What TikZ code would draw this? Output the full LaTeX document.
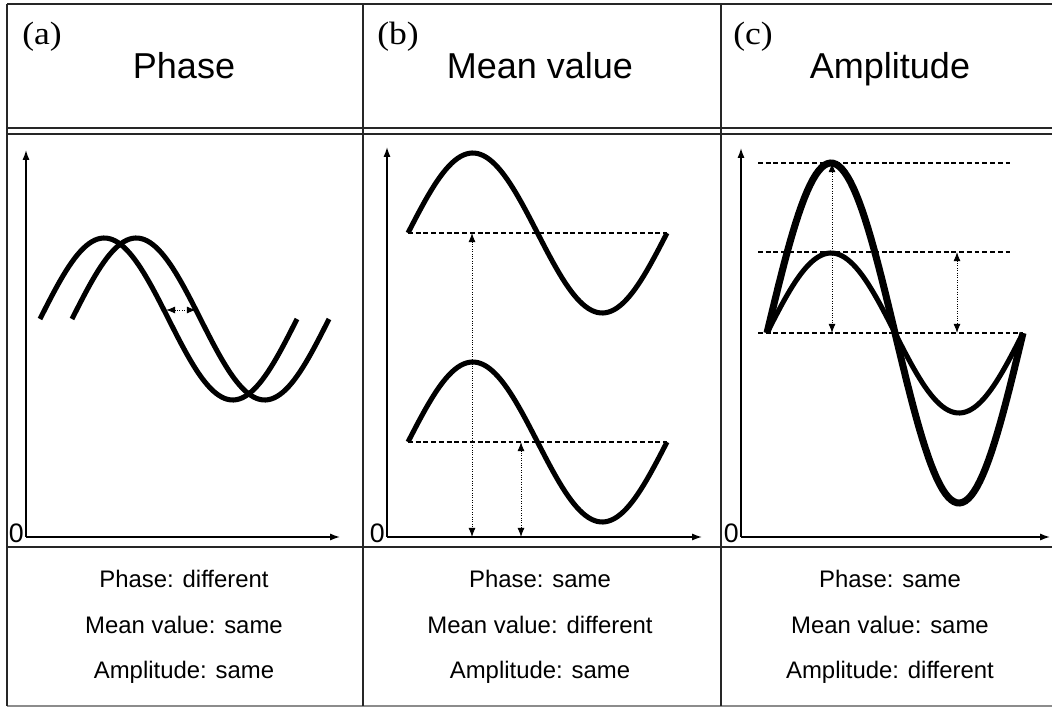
\documentclass[tikz,border=0pt]{standalone}
\usepackage{fontspec}
\setmainfont{Liberation Sans}
\newfontfamily\tagfont[FakeStretch=1.1]{Liberation Serif}
\usetikzlibrary{arrows.meta, calc}

\tikzset{
  rule/.style={line width=1.2pt, black!85},
  axis/.style={line width=1pt, -{Latex[length=7pt,width=5pt]}},
  wave/.style={line width=3.6pt},
  bigwave/.style={line width=5pt},
  meanline/.style={line width=0.9pt, dash pattern=on 3.5pt off 2pt},
  gap/.style={line width=0.7pt, densely dotted, {Latex[length=6.5pt,width=5pt]}-{Latex[length=6.5pt,width=5pt]}},
}

\begin{document}
\begin{tikzpicture}[x=0.025cm, y=-0.025cm]
  \useasboundingbox (0,0) rectangle (1052,708);

  % Table frame
  \draw[rule] (7,4) -- (1052,4);
  \draw[rule] (7,128) -- (1052,128);
  \draw[rule] (7,134) -- (1052,134);
  \draw[rule] (7,547) -- (1052,547);
  \draw[rule, black!45] (7,706) -- (1052,706);
  \foreach \vx in {7,363,721}
    \draw[rule] (\vx,4) -- (\vx,706);

  % Headers and captions
  \foreach \lx/\cx/\tag/\title/\ph/\mv/\am in {
    22/184/a/Phase/different/same/same,
    377/540/b/Mean value/same/different/same,
    733/890/c/Amplitude/same/same/different
  }{
    \node[anchor=base west, inner sep=0, font=\tagfont\fontsize{23}{27}\selectfont] (tag-\tag) at (\lx,45) {(\tag)};
    \node[anchor=base, inner sep=0, font=\fontsize{25.6}{30}\selectfont] (title-\tag) at (\cx,79) {\title};
    \node[anchor=base, inner sep=0, font=\fontsize{17}{20}\selectfont] (ph-\tag) at (\cx,587) {Phase: \ph};
    \node[anchor=base, inner sep=0, font=\fontsize{17}{20}\selectfont] (mv-\tag) at (\cx,633) {Mean value: \mv};
    \node[anchor=base, inner sep=0, font=\fontsize{17}{20}\selectfont] (am-\tag) at (\cx,678) {Amplitude: \am};
  }

  % Axes
  \foreach \ox/\xend/\ytop/\tag in {26/340/150/a, 387/702/147/b, 741/1050/148/c}{
    \coordinate (o-\tag) at (\ox,537);
    \coordinate (xend-\tag) at (\xend,537);
    \coordinate (ytop-\tag) at (\ox,\ytop);
    \draw[axis] (o-\tag) -- (ytop-\tag);
    \draw[axis] (o-\tag) -- (xend-\tag);
    \node[anchor=base east, inner sep=0, font=\fontsize{19}{22}\selectfont] (zero-\tag) at (\ox-2,542) {0};
  }

  % (a) phase shift
  \draw[wave] plot[domain=40:297, samples=90] ({\x},{319-81*sin((\x-40)/257*360)});
  \draw[wave] plot[domain=72:329, samples=90] ({\x},{319-81*sin((\x-72)/257*360)});
  \coordinate (shift-l) at (166,310);
  \coordinate (shift-r) at (196,310);
  \draw[gap] (shift-l) -- (shift-r);

  % (b) mean value
  \draw[wave] plot[domain=408:667, samples=90] ({\x},{233-80*sin((\x-408)/259*360)});
  \draw[wave] plot[domain=408:667, samples=90] ({\x},{442-80*sin((\x-408)/259*360)});
  \coordinate (mean-b1) at (408,233);
  \coordinate (mean-b1e) at (667,233);
  \coordinate (mean-b2) at (408,442);
  \coordinate (mean-b2e) at (667,442);
  \draw[meanline] (mean-b1) -- (mean-b1e);
  \draw[meanline] (mean-b2) -- (mean-b2e);
  \coordinate (lvl-b1) at (472,233);
  \coordinate (lvl-b2) at (521,442);
  \draw[gap] (lvl-b1) -- (lvl-b1 |- o-b);
  \draw[gap] (lvl-b2) -- (lvl-b2 |- o-b);

  % (c) amplitude
  \coordinate (top-c1) at (758,163);
  \coordinate (top-c1e) at (1013,163);
  \coordinate (top-c2) at (758,252);
  \coordinate (top-c2e) at (1013,252);
  \coordinate (mean-c) at (758,333);
  \coordinate (mean-ce) at (1023,333);
  \draw[meanline] (top-c1) -- (top-c1e);
  \draw[meanline] (top-c2) -- (top-c2e);
  \draw[meanline] (mean-c) -- (mean-ce);
  \draw[bigwave] plot[domain=767:1023, samples=90] ({\x},{333-170*sin((\x-767)/256*360)});
  \draw[wave] plot[domain=767:1023, samples=90] ({\x},{333-80*sin((\x-767)/256*360)});
  \coordinate (amp-c1) at (832,163);
  \coordinate (amp-c2) at (957,252);
  \draw[gap] (amp-c1) -- (amp-c1 |- mean-c);
  \draw[gap] (amp-c2) -- (amp-c2 |- mean-c);
\end{tikzpicture}
\end{document}
